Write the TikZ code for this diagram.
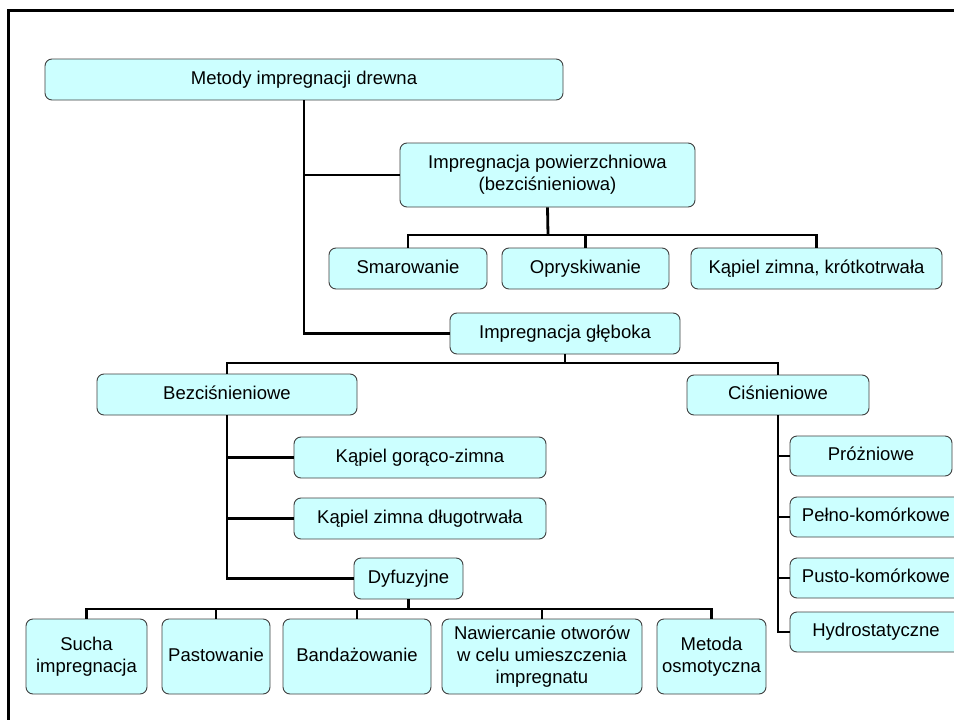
\documentclass[tikz,border=0pt]{standalone}
\usepackage{fontspec}
\setmainfont{Liberation Sans}
\definecolor{boxfill}{HTML}{CCFFFF}
\definecolor{boxline}{HTML}{404040}
\begin{document}
\begin{tikzpicture}[x=1pt,y=-1pt,
  box/.style={draw=boxline,line width=0.9pt,fill=boxfill,rounded corners=7pt,
    inner sep=0pt,align=center,font=\fontsize{18.5}{22}\selectfont},
  one/.style={text height=13.5pt,text depth=4pt},
  conn/.style={line width=2.8pt,black}]
\useasboundingbox (0,0) rectangle (954,720);
\clip (0,0) rectangle (954,720);
\fill[white] (0,0) rectangle (954,720);
% frame
\draw[line width=3pt] (8,730) -- (8,10) -- (970,10);
% nodes (center, width, height)
\node[box,one,minimum width=518pt,minimum height=41pt] (root) at (304,79.5) {Metody impregnacji drewna};
\node[box,minimum width=295pt,minimum height=64pt] (pow) at (547.5,175) {Impregnacja powierzchniowa\\(bezciśnieniowa)};
\node[box,one,minimum width=158pt,minimum height=41pt] (smar) at (408,268.5) {Smarowanie};
\node[box,one,minimum width=167pt,minimum height=41pt] (opr) at (585.5,268.5) {Opryskiwanie};
\node[box,one,minimum width=251pt,minimum height=41pt] (kap1) at (816.5,268.5) {Kąpiel zimna, krótkotrwała};
\node[box,one,minimum width=230pt,minimum height=41pt] (gleb) at (565,333.5) {Impregnacja głęboka};
\node[box,one,minimum width=260pt,minimum height=41pt] (bez) at (227,394.5) {Bezciśnieniowe};
\node[box,one,minimum width=182pt,minimum height=40pt] (cis) at (778,395) {Ciśnieniowe};
\node[box,one,minimum width=252pt,minimum height=41pt] (kgz) at (420,457.5) {Kąpiel gorąco-zimna};
\node[box,one,minimum width=252pt,minimum height=41pt] (kzd) at (420,518.5) {Kąpiel zimna długotrwała};
\node[box,one,minimum width=109pt,minimum height=41pt] (dyf) at (408.5,578.5) {Dyfuzyjne};
\node[box,minimum width=121pt,minimum height=75pt] (sucha) at (86.5,656.5) {Sucha\\impregnacja};
\node[box,one,minimum width=108pt,minimum height=75pt] (past) at (216,656.5) {Pastowanie};
\node[box,one,minimum width=148pt,minimum height=75pt] (band) at (357,656.5) {Bandażowanie};
\node[box,minimum width=200pt,minimum height=75pt] (naw) at (542,656.5) {Nawiercanie otworów\\w celu umieszczenia\\impregnatu};
\node[box,minimum width=109pt,minimum height=75pt] (met) at (711.5,656.5) {Metoda\\osmotyczna};
\node[box,one,minimum width=162pt,minimum height=40pt] (proz) at (871,456) {Próżniowe};
\node[box,one,minimum width=172pt,minimum height=40pt] (pelno) at (876,517) {Pełno-komórkowe};
\node[box,one,minimum width=172pt,minimum height=40pt] (pusto) at (876,578) {Pusto-komórkowe};
\node[box,one,minimum width=172pt,minimum height=40pt] (hydro) at (876,632) {Hydrostatyczne};
% connectors
\coordinate (b1) at (548,235);
\coordinate (b2) at (565,363);
\coordinate (b3) at (408.5,609);
\draw[conn] (root.south) |- (gleb.west);
\draw[conn] (root.south |- pow.west) -- (pow.west);
\draw[conn] (pow.south) -- (b1);
\draw[conn] (smar.north) |- (b1) -| (kap1.north);
\draw[conn] (opr.north) -- (opr.north |- b1);
\draw[conn] (gleb.south) -- (b2);
\draw[conn] (bez.north) |- (b2) -| (cis.north);
\draw[conn] (bez.south) |- (dyf.west);
\draw[conn] (bez.south |- kgz.west) -- (kgz.west);
\draw[conn] (bez.south |- kzd.west) -- (kzd.west);
\draw[conn] (dyf.south) -- (b3);
\draw[conn] (sucha.north) |- (b3) -| (met.north);
\draw[conn] (past.north) -- (past.north |- b3);
\draw[conn] (band.north) -- (band.north |- b3);
\draw[conn] (naw.north) -- (naw.north |- b3);
\draw[conn] (cis.south) |- (hydro.west);
\draw[conn] (cis.south |- proz.west) -- (proz.west);
\draw[conn] (cis.south |- pelno.west) -- (pelno.west);
\draw[conn] (cis.south |- pusto.west) -- (pusto.west);
\end{tikzpicture}
\end{document}
